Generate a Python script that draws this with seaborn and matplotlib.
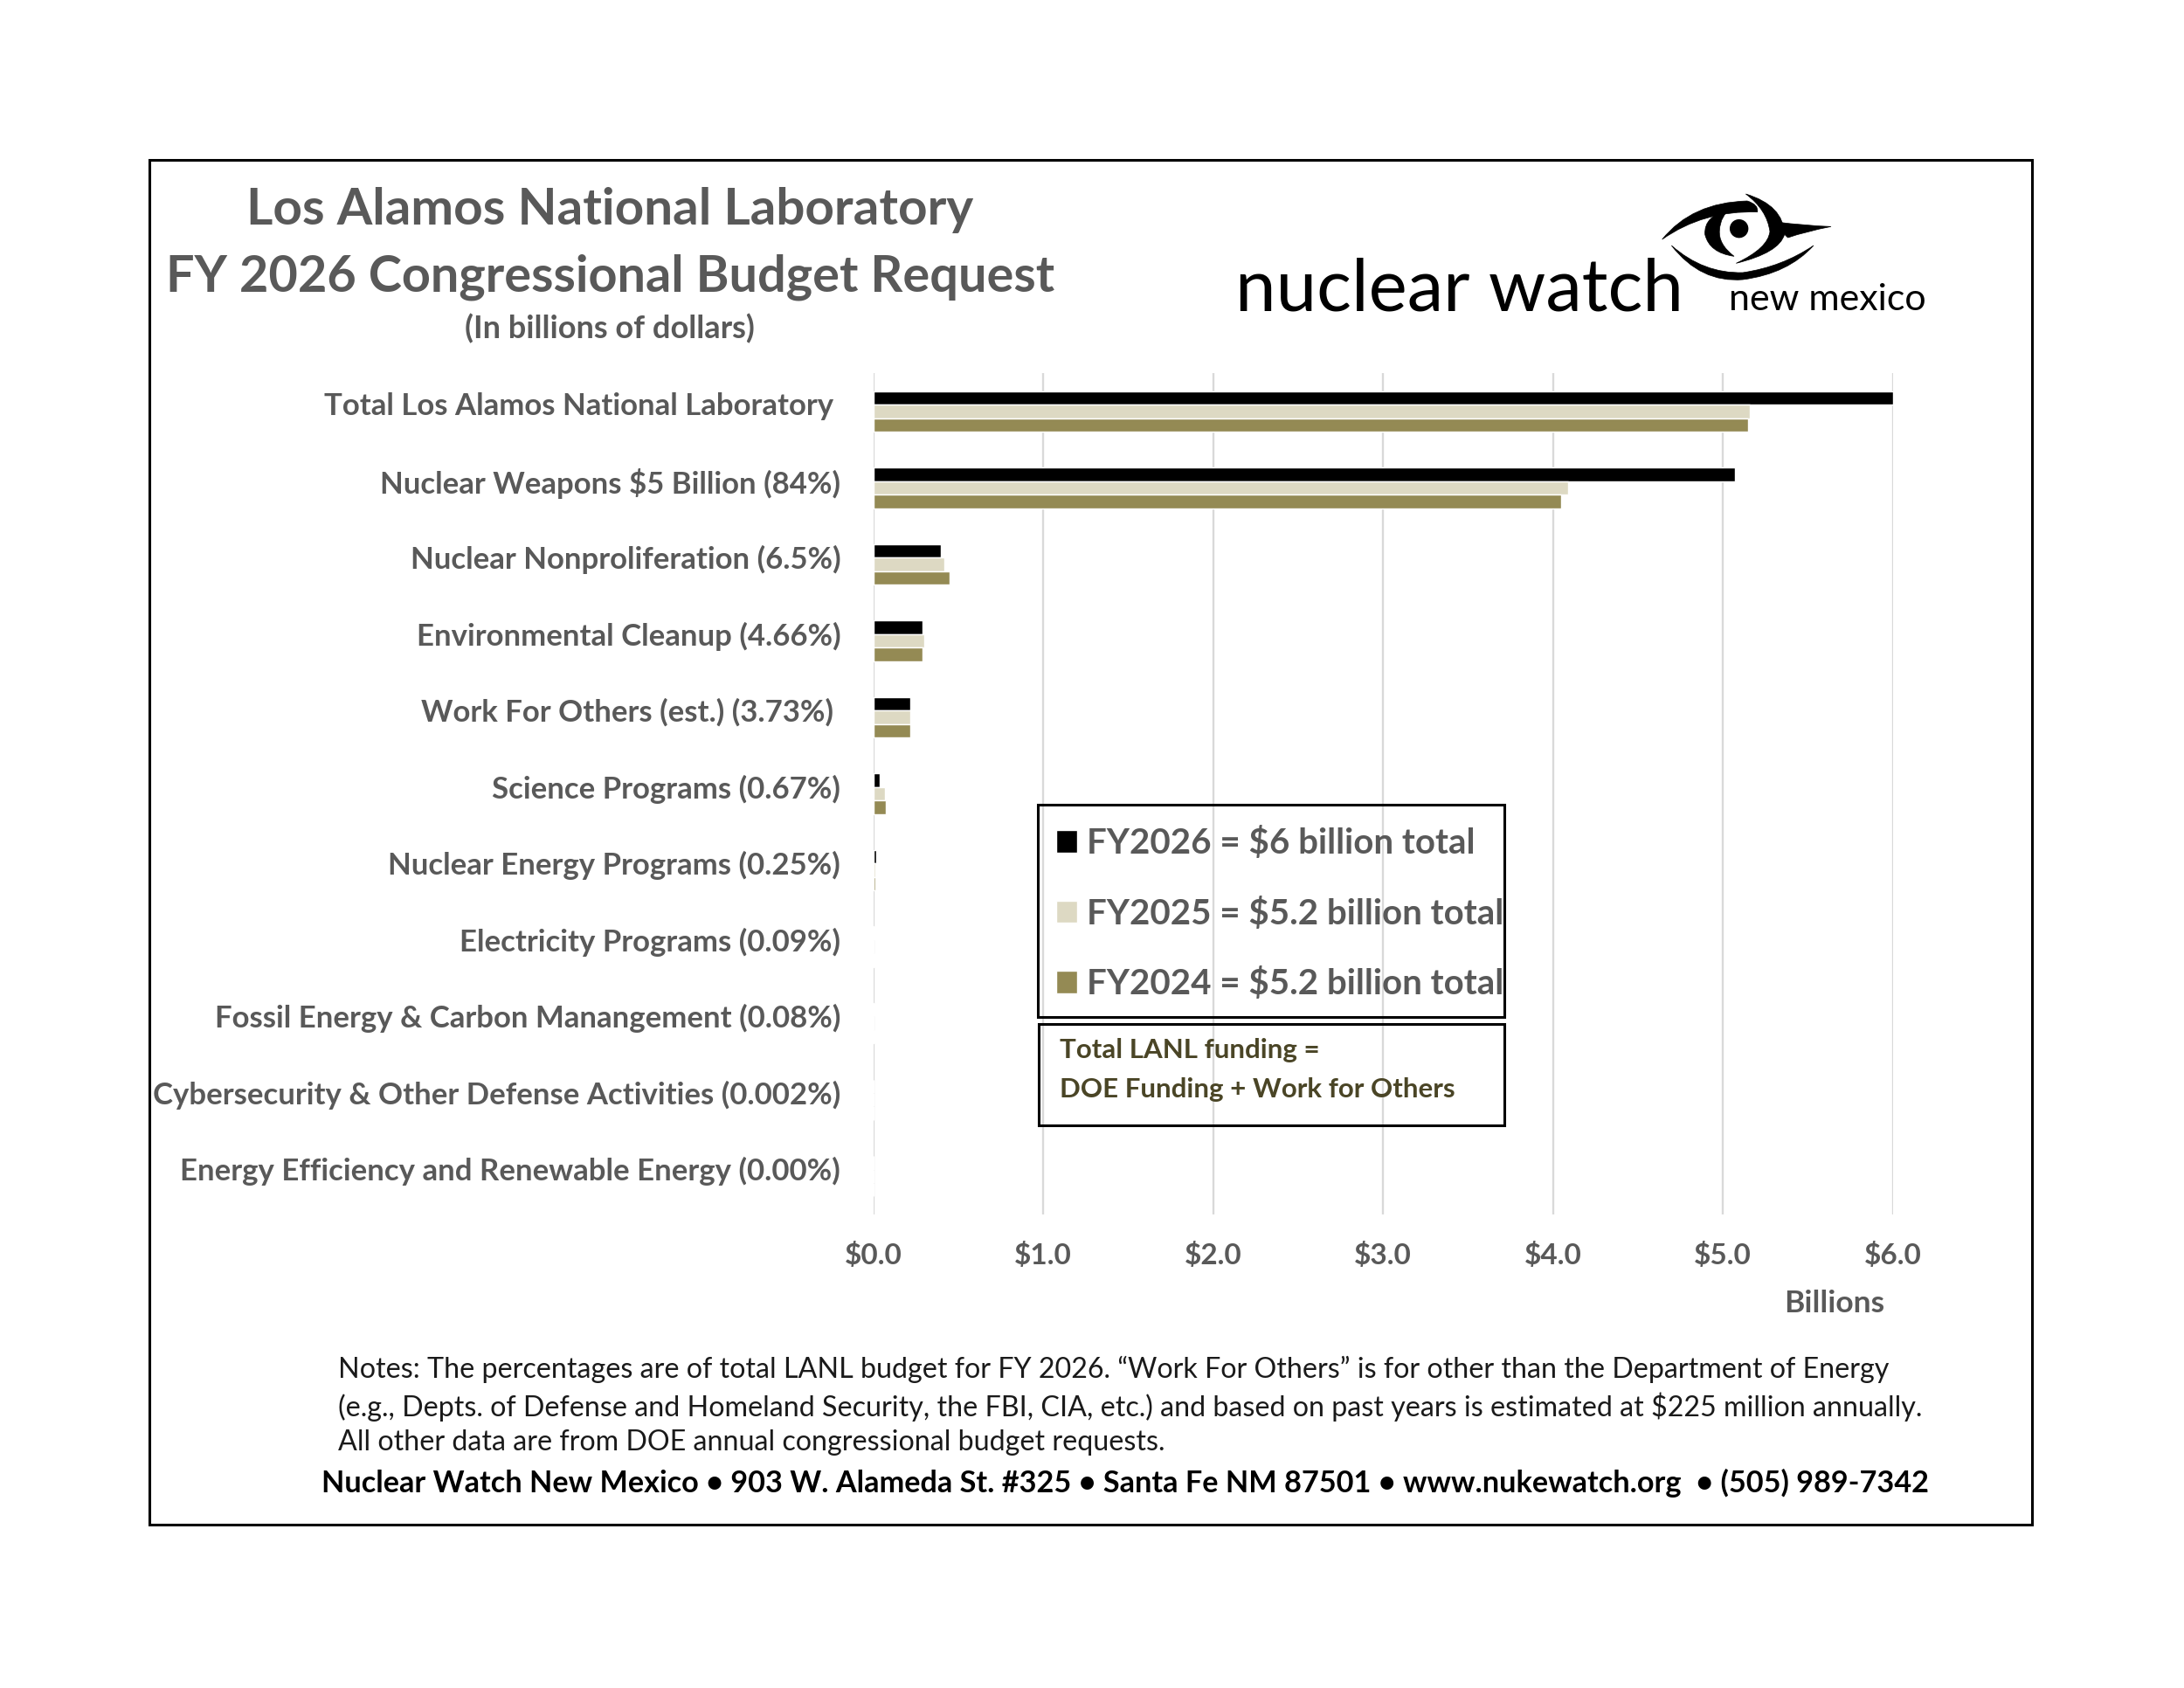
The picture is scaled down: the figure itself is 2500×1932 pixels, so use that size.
import matplotlib
matplotlib.use("Agg")
import matplotlib.pyplot as plt
import matplotlib.transforms as mtransforms
import seaborn as sns
import pandas as pd
from matplotlib.patches import Rectangle, Circle, PathPatch
from matplotlib.path import Path

# ---------------- data ----------------
categories = [
    "Total Los Alamos National Laboratory ",
    "Nuclear Weapons $5 Billion (84%)",
    "Nuclear Nonproliferation (6.5%)",
    "Environmental Cleanup (4.66%)",
    "Work For Others (est.) (3.73%) ",
    "Science Programs (0.67%)",
    "Nuclear Energy Programs (0.25%)",
    "Electricity Programs (0.09%)",
    "Fossil Energy & Carbon Manangement (0.08%)",
    "Cybersecurity & Other Defense Activities (0.002%)",
    "Energy Efficiency and Renewable Energy (0.00%)",
]
fy2026 = [6.00, 5.07, 0.40, 0.29, 0.22, 0.040, 0.015, 0.006, 0.006, 0.004, 0.0]
fy2025 = [5.16, 4.09, 0.42, 0.30, 0.22, 0.070, 0.010, 0.004, 0.004, 0.003, 0.002]
fy2024 = [5.15, 4.05, 0.45, 0.29, 0.22, 0.074, 0.012, 0.005, 0.005, 0.003, 0.003]
year_labels = ["FY2026 = $6 billion total",
               "FY2025 = $5.2 billion total",
               "FY2024 = $5.2 billion total"]
xtick_vals = [0, 1, 2, 3, 4, 5, 6]
xtick_labels = ["$0.0", "$1.0", "$2.0", "$3.0", "$4.0", "$5.0", "$6.0"]
colors = ["#000000", "#DDD9C3", "#948A54"]

df = pd.DataFrame({
    "category": categories * 3,
    "value": fy2026 + fy2025 + fy2024,
    "year": [year_labels[0]] * len(categories)
            + [year_labels[1]] * len(categories)
            + [year_labels[2]] * len(categories),
})

# ---------------- style ----------------
sns.set_style("white")
plt.rcParams["font.family"] = ["Lato", "DejaVu Sans"]
GRAY = "#595959"

W, H = 1568.0, 1212.0  # layout reference units
def fx(x):
    return x / W
def fy(y):
    return 1 - y / H

fig = plt.figure(figsize=(25, 19.32), dpi=100)

# outer frame
fig.patches.append(Rectangle((fx(107), fy(1095)), fx(1459) - fx(107), fy(115) - fy(1095),
                             transform=fig.transFigure, fill=False, ec="black", lw=2.2))

# titles
fig.text(fx(438), fy(151), "Los Alamos National Laboratory", ha="center", va="center",
         fontsize=42, fontweight="bold", color=GRAY)
fig.text(fx(438), fy(199), "FY 2026 Congressional Budget Request", ha="center", va="center",
         fontsize=41.5, fontweight="bold", color=GRAY)
fig.text(fx(438), fy(236), "(In billions of dollars)", ha="center", va="center",
         fontsize=26, fontweight="bold", color=GRAY)

# ---------------- main axes ----------------
ax = fig.add_axes([fx(627), fy(872), fx(1359) - fx(627), fy(268) - fy(872)])
sns.barplot(data=df, x="value", y="category", hue="year", hue_order=year_labels,
            palette=colors, saturation=1, orient="h", width=0.53, errorbar=None,
            ax=ax, order=categories)
ax.set_xlim(0, 6)
ax.set_xticks(xtick_vals)
ax.set_xticklabels(xtick_labels)
ax.set_xlabel("")
ax.set_ylabel("")
for s in ax.spines.values():
    s.set_visible(False)
ax.xaxis.grid(True, color="#D9D9D9", lw=1.7)
ax.yaxis.grid(False)
ax.set_axisbelow(True)
ax.tick_params(axis="y", length=0, pad=27, labelsize=25, labelcolor=GRAY)
ax.tick_params(axis="x", length=0, pad=23, labelsize=24, labelcolor=GRAY)
up = mtransforms.ScaledTranslation(0, 0.085, fig.dpi_scale_trans)
for t in ax.get_yticklabels():
    t.set_fontweight("bold")
    t.set_transform(t.get_transform() + up)
for t in ax.get_xticklabels():
    t.set_fontweight("bold")

fig.text(fx(1317), fy(936), "Billions", ha="center", va="center",
         fontsize=25.5, fontweight="bold", color=GRAY)

# legend (frame drawn separately at the reference position)
handles, labels = ax.get_legend_handles_labels()
if ax.get_legend() is not None:
    ax.get_legend().remove()
leg = ax.legend(handles, labels, loc="upper left", bbox_to_anchor=(fx(758), fy(593.5)),
                bbox_transform=fig.transFigure, frameon=False,
                fontsize=29, handlelength=0.6, handleheight=0.6, handletextpad=0.28,
                labelspacing=1.06, borderpad=0, borderaxespad=0)
for t in leg.get_texts():
    t.set_color(GRAY)
    t.set_fontweight("bold")
fig.patches.append(Rectangle((fx(745), fy(730)), fx(1080) - fx(745), fy(578) - fy(730),
                             transform=fig.transFigure, fill=False, ec="black", lw=2.2))

# second box
fig.patches.append(Rectangle((fx(746), fy(808)), fx(1080) - fx(746), fy(735) - fy(808),
                             transform=fig.transFigure, fill=False, ec="black", lw=2.2))
OLIVE_TXT = "#4A4526"
fig.text(fx(761), fy(754), "Total LANL funding =", ha="left", va="center",
         fontsize=22.5, fontweight="bold", color=OLIVE_TXT)
fig.text(fx(761), fy(782), "DOE Funding + Work for Others", ha="left", va="center",
         fontsize=22.5, fontweight="bold", color=OLIVE_TXT)

# notes
notes = [
    "Notes: The percentages are of total LANL budget for FY 2026. \u201cWork For Others\u201d is for other than the Department of Energy",
    "(e.g., Depts. of Defense and Homeland Security, the FBI, CIA, etc.) and based on past years is estimated at $225 million annually.",
    "All other data are from DOE annual congressional budget requests.",
]
for yy, line in zip([983, 1010, 1036], notes):
    fig.text(fx(243), fy(yy), line, ha="left", va="center", fontsize=23.2, color="#1A1A1A")
fig.text(fx(808), fy(1065),
         "Nuclear Watch New Mexico \u2022 903 W. Alameda St. #325 \u2022 Santa Fe NM 87501 \u2022 www.nukewatch.org  \u2022 (505) 989-7342",
         ha="center", va="center", fontsize=24.7, fontweight="bold", color="black")

# ---------------- logo ----------------
fig.text(fx(887), fy(223), "nuclear watch", ha="left", va="baseline",
         fontsize=60, fontweight="normal", color="black")
fig.text(fx(1241), fy(223), "new mexico", ha="left", va="baseline",
         fontsize=31, fontweight="normal", color="black")

# eye drawn in a small axes whose units are 1/3 image pixel
lax = fig.add_axes([1900 / 2500, 1 - 350 / 1932, 260 / 2500, 150 / 1932])
lax.set_xlim(0, 780)
lax.set_ylim(450, 0)
lax.axis("off")
M, C3, CL = Path.MOVETO, Path.CURVE3, Path.CLOSEPOLY
def shape(verts, codes):
    lax.add_patch(PathPatch(Path(verts, codes), fc="black", ec="black", lw=0.5))

# upper lid
shape([(8, 222), (110, 95), (300, 90), (340, 102), (335, 128),
       (150, 122), (8, 222), (8, 222)],
      [M, C3, C3, C3, C3, C3, C3, CL])
# right hook of the iris
shape([(295, 66), (425, 105), (428, 205), (410, 268), (262, 304),
       (372, 252), (378, 195), (368, 120), (295, 66), (295, 66)],
      [M, C3, C3, C3, C3, C3, C3, C3, C3, CL])
# left crescent of the iris
shape([(245, 116), (150, 140), (155, 205), (170, 268), (255, 280),
       (200, 238), (205, 190), (208, 140), (245, 116), (245, 116)],
      [M, C3, C3, C3, C3, C3, C3, C3, C3, CL])
# tail
shape([(398, 162), (500, 175), (588, 178), (500, 195), (440, 216),
       (420, 200), (398, 162), (398, 162)],
      [M, C3, C3, C3, C3, C3, C3, CL])
# lower lid
shape([(40, 243), (140, 372), (285, 360), (440, 340), (528, 243),
       (420, 316), (285, 336), (150, 340), (40, 243), (40, 243)],
      [M, C3, C3, C3, C3, C3, C3, C3, C3, CL])
# pupil
lax.add_patch(Circle((272, 185), 30, color="black"))

fig.savefig("out.png", dpi=100, facecolor="white")
